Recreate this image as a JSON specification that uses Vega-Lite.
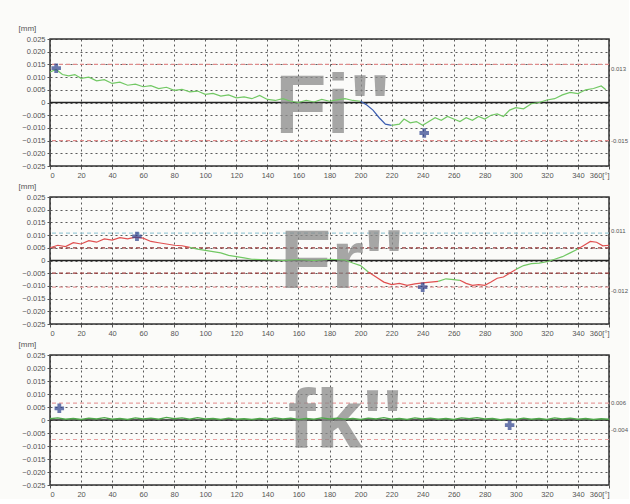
{
  "$schema": "https://vega.github.io/schema/vega-lite/v6.json",
  "padding": {"left": 17, "top": 23, "right": 0, "bottom": 0},
  "background": "#fbfbf9",
  "spacing": 1,
  "resolve": {"scale": {"color": "independent"}},
  "config": {
    "font": "Liberation Sans",
    "view": {"stroke": "#333333", "strokeWidth": 1.5},
    "axis": {"labelFontSize": 7.5, "labelColor": "#555555", "tickColor": "#555555", "domain": false, "grid": true, "gridColor": "#333333", "gridDash": [2, 3], "gridOpacity": 0.8, "tickSize": 3, "labelPadding": 2, "labelOverlap": false, "tickCount": 30},
    "axisY": {"titleAngle": 0, "titleX": -32, "titleY": -7, "titleAlign": "left", "titleBaseline": "bottom", "titleFontSize": 8, "titleFontWeight": "normal", "titleColor": "#555555"}
  },
  "datasets": {
    "p1": [
      {"deg": 0, "v": 0.012, "c": "g", "seg": 1}, {"deg": 4, "v": 0.013, "c": "g", "seg": 1}, {"deg": 8, "v": 0.011, "c": "g", "seg": 1}, {"deg": 12, "v": 0.0105, "c": "g", "seg": 1}, {"deg": 16, "v": 0.011, "c": "g", "seg": 1}, {"deg": 20, "v": 0.0095, "c": "g", "seg": 1}, {"deg": 25, "v": 0.01, "c": "g", "seg": 1}, {"deg": 30, "v": 0.0085, "c": "g", "seg": 1}, {"deg": 35, "v": 0.009, "c": "g", "seg": 1}, {"deg": 40, "v": 0.0075, "c": "g", "seg": 1}, {"deg": 45, "v": 0.008, "c": "g", "seg": 1}, {"deg": 50, "v": 0.0068, "c": "g", "seg": 1}, {"deg": 55, "v": 0.0072, "c": "g", "seg": 1}, {"deg": 60, "v": 0.0062, "c": "g", "seg": 1}, {"deg": 65, "v": 0.0066, "c": "g", "seg": 1}, {"deg": 70, "v": 0.0055, "c": "g", "seg": 1}, {"deg": 75, "v": 0.006, "c": "g", "seg": 1}, {"deg": 80, "v": 0.0048, "c": "g", "seg": 1}, {"deg": 85, "v": 0.0052, "c": "g", "seg": 1}, {"deg": 90, "v": 0.0042, "c": "g", "seg": 1}, {"deg": 95, "v": 0.0045, "c": "g", "seg": 1}, {"deg": 100, "v": 0.0032, "c": "g", "seg": 1}, {"deg": 105, "v": 0.0036, "c": "g", "seg": 1}, {"deg": 110, "v": 0.0025, "c": "g", "seg": 1}, {"deg": 115, "v": 0.003, "c": "g", "seg": 1}, {"deg": 120, "v": 0.0018, "c": "g", "seg": 1}, {"deg": 125, "v": 0.0022, "c": "g", "seg": 1}, {"deg": 130, "v": 0.0015, "c": "g", "seg": 1}, {"deg": 135, "v": 0.0028, "c": "g", "seg": 1}, {"deg": 140, "v": 0.0012, "c": "g", "seg": 1}, {"deg": 145, "v": 0.0008, "c": "g", "seg": 1}, {"deg": 150, "v": 0.0015, "c": "g", "seg": 1}, {"deg": 155, "v": 0.0005, "c": "g", "seg": 1}, {"deg": 160, "v": 0.0, "c": "g", "seg": 1}, {"deg": 165, "v": 0.0008, "c": "g", "seg": 1}, {"deg": 170, "v": 0.0002, "c": "g", "seg": 1}, {"deg": 175, "v": 0.0012, "c": "g", "seg": 1}, {"deg": 180, "v": 0.0005, "c": "g", "seg": 1}, {"deg": 185, "v": 0.001, "c": "g", "seg": 1}, {"deg": 190, "v": 0.0015, "c": "g", "seg": 1}, {"deg": 195, "v": 0.0008, "c": "g", "seg": 1}, {"deg": 200, "v": 0.0005, "c": "g", "seg": 1},
      {"deg": 200, "v": 0.0005, "c": "b", "seg": 2}, {"deg": 204, "v": -0.001, "c": "b", "seg": 2}, {"deg": 208, "v": -0.003, "c": "b", "seg": 2}, {"deg": 212, "v": -0.006, "c": "b", "seg": 2}, {"deg": 216, "v": -0.0085, "c": "b", "seg": 2}, {"deg": 220, "v": -0.009, "c": "b", "seg": 2},
      {"deg": 220, "v": -0.009, "c": "g", "seg": 3}, {"deg": 225, "v": -0.0085, "c": "g", "seg": 3}, {"deg": 228, "v": -0.0065, "c": "g", "seg": 3}, {"deg": 232, "v": -0.008, "c": "g", "seg": 3}, {"deg": 236, "v": -0.0075, "c": "g", "seg": 3}, {"deg": 240, "v": -0.009, "c": "g", "seg": 3}, {"deg": 244, "v": -0.0075, "c": "g", "seg": 3}, {"deg": 248, "v": -0.006, "c": "g", "seg": 3}, {"deg": 252, "v": -0.007, "c": "g", "seg": 3}, {"deg": 256, "v": -0.0055, "c": "g", "seg": 3}, {"deg": 260, "v": -0.0065, "c": "g", "seg": 3}, {"deg": 264, "v": -0.0075, "c": "g", "seg": 3}, {"deg": 268, "v": -0.006, "c": "g", "seg": 3}, {"deg": 272, "v": -0.007, "c": "g", "seg": 3}, {"deg": 276, "v": -0.0055, "c": "g", "seg": 3}, {"deg": 280, "v": -0.0065, "c": "g", "seg": 3}, {"deg": 284, "v": -0.005, "c": "g", "seg": 3}, {"deg": 288, "v": -0.0045, "c": "g", "seg": 3}, {"deg": 292, "v": -0.0055, "c": "g", "seg": 3}, {"deg": 296, "v": -0.003, "c": "g", "seg": 3}, {"deg": 300, "v": -0.002, "c": "g", "seg": 3}, {"deg": 305, "v": -0.0025, "c": "g", "seg": 3}, {"deg": 310, "v": -0.0005, "c": "g", "seg": 3}, {"deg": 315, "v": 0.0, "c": "g", "seg": 3}, {"deg": 320, "v": 0.001, "c": "g", "seg": 3}, {"deg": 325, "v": 0.0015, "c": "g", "seg": 3}, {"deg": 330, "v": 0.003, "c": "g", "seg": 3}, {"deg": 335, "v": 0.004, "c": "g", "seg": 3}, {"deg": 340, "v": 0.0035, "c": "g", "seg": 3}, {"deg": 345, "v": 0.005, "c": "g", "seg": 3}, {"deg": 350, "v": 0.0055, "c": "g", "seg": 3}, {"deg": 355, "v": 0.0065, "c": "g", "seg": 3}, {"deg": 358, "v": 0.005, "c": "g", "seg": 3}
    ],
    "p2": [
      {"deg": 0, "v": 0.005, "c": "r", "seg": 1}, {"deg": 5, "v": 0.006, "c": "r", "seg": 1}, {"deg": 10, "v": 0.0055, "c": "r", "seg": 1}, {"deg": 15, "v": 0.007, "c": "r", "seg": 1}, {"deg": 20, "v": 0.0065, "c": "r", "seg": 1}, {"deg": 25, "v": 0.0078, "c": "r", "seg": 1}, {"deg": 30, "v": 0.0072, "c": "r", "seg": 1}, {"deg": 35, "v": 0.0085, "c": "r", "seg": 1}, {"deg": 40, "v": 0.008, "c": "r", "seg": 1}, {"deg": 45, "v": 0.009, "c": "r", "seg": 1}, {"deg": 50, "v": 0.0085, "c": "r", "seg": 1}, {"deg": 55, "v": 0.0092, "c": "r", "seg": 1}, {"deg": 60, "v": 0.0088, "c": "r", "seg": 1}, {"deg": 65, "v": 0.0075, "c": "r", "seg": 1}, {"deg": 70, "v": 0.007, "c": "r", "seg": 1}, {"deg": 75, "v": 0.0065, "c": "r", "seg": 1}, {"deg": 80, "v": 0.006, "c": "r", "seg": 1}, {"deg": 85, "v": 0.0058, "c": "r", "seg": 1}, {"deg": 90, "v": 0.0052, "c": "r", "seg": 1},
      {"deg": 90, "v": 0.0052, "c": "g", "seg": 2}, {"deg": 95, "v": 0.0045, "c": "g", "seg": 2}, {"deg": 100, "v": 0.004, "c": "g", "seg": 2}, {"deg": 105, "v": 0.0035, "c": "g", "seg": 2}, {"deg": 110, "v": 0.003, "c": "g", "seg": 2}, {"deg": 115, "v": 0.002, "c": "g", "seg": 2}, {"deg": 120, "v": 0.0015, "c": "g", "seg": 2}, {"deg": 125, "v": 0.001, "c": "g", "seg": 2}, {"deg": 130, "v": 0.0005, "c": "g", "seg": 2}, {"deg": 140, "v": 0.0003, "c": "g", "seg": 2}, {"deg": 150, "v": 0.0, "c": "g", "seg": 2}, {"deg": 160, "v": 0.0004, "c": "g", "seg": 2}, {"deg": 170, "v": 0.0, "c": "g", "seg": 2}, {"deg": 180, "v": 0.0005, "c": "g", "seg": 2}, {"deg": 190, "v": 0.0002, "c": "g", "seg": 2}, {"deg": 195, "v": -0.001, "c": "g", "seg": 2}, {"deg": 200, "v": -0.002, "c": "g", "seg": 2}, {"deg": 205, "v": -0.0045, "c": "g", "seg": 2},
      {"deg": 205, "v": -0.0045, "c": "r", "seg": 3}, {"deg": 210, "v": -0.0065, "c": "r", "seg": 3}, {"deg": 215, "v": -0.0085, "c": "r", "seg": 3}, {"deg": 220, "v": -0.0095, "c": "r", "seg": 3}, {"deg": 225, "v": -0.009, "c": "r", "seg": 3}, {"deg": 230, "v": -0.0098, "c": "r", "seg": 3}, {"deg": 235, "v": -0.0092, "c": "r", "seg": 3}, {"deg": 240, "v": -0.0088, "c": "r", "seg": 3}, {"deg": 245, "v": -0.0085, "c": "r", "seg": 3}, {"deg": 250, "v": -0.0082, "c": "r", "seg": 3},
      {"deg": 250, "v": -0.0082, "c": "g", "seg": 4}, {"deg": 255, "v": -0.0072, "c": "g", "seg": 4}, {"deg": 260, "v": -0.0075, "c": "g", "seg": 4}, {"deg": 264, "v": -0.0078, "c": "g", "seg": 4},
      {"deg": 264, "v": -0.0078, "c": "r", "seg": 5}, {"deg": 268, "v": -0.009, "c": "r", "seg": 5}, {"deg": 272, "v": -0.0098, "c": "r", "seg": 5}, {"deg": 276, "v": -0.0095, "c": "r", "seg": 5}, {"deg": 280, "v": -0.0098, "c": "r", "seg": 5}, {"deg": 284, "v": -0.0085, "c": "r", "seg": 5}, {"deg": 288, "v": -0.007, "c": "r", "seg": 5}, {"deg": 292, "v": -0.0065, "c": "r", "seg": 5}, {"deg": 296, "v": -0.005, "c": "r", "seg": 5}, {"deg": 300, "v": -0.0035, "c": "r", "seg": 5},
      {"deg": 300, "v": -0.0035, "c": "g", "seg": 6}, {"deg": 305, "v": -0.002, "c": "g", "seg": 6}, {"deg": 310, "v": -0.0012, "c": "g", "seg": 6}, {"deg": 315, "v": -0.001, "c": "g", "seg": 6}, {"deg": 320, "v": -0.0005, "c": "g", "seg": 6}, {"deg": 325, "v": 0.0005, "c": "g", "seg": 6}, {"deg": 330, "v": 0.0015, "c": "g", "seg": 6}, {"deg": 335, "v": 0.003, "c": "g", "seg": 6}, {"deg": 340, "v": 0.0045, "c": "g", "seg": 6},
      {"deg": 340, "v": 0.0045, "c": "r", "seg": 7}, {"deg": 344, "v": 0.006, "c": "r", "seg": 7}, {"deg": 348, "v": 0.0075, "c": "r", "seg": 7}, {"deg": 352, "v": 0.0072, "c": "r", "seg": 7}, {"deg": 356, "v": 0.0058, "c": "r", "seg": 7}, {"deg": 360, "v": 0.006, "c": "r", "seg": 7}
    ],
    "p3": [
      {"deg": 0, "v": 0.0005, "c": "g", "seg": 1}, {"deg": 5, "v": 0.0008, "c": "g", "seg": 1}, {"deg": 10, "v": 0.0003, "c": "g", "seg": 1}, {"deg": 15, "v": 0.0006, "c": "g", "seg": 1}, {"deg": 20, "v": 0.0002, "c": "g", "seg": 1}, {"deg": 25, "v": 0.0007, "c": "g", "seg": 1}, {"deg": 30, "v": 0.0004, "c": "g", "seg": 1}, {"deg": 35, "v": 0.0009, "c": "g", "seg": 1}, {"deg": 40, "v": 0.0003, "c": "g", "seg": 1}, {"deg": 45, "v": 0.0006, "c": "g", "seg": 1}, {"deg": 50, "v": 0.0002, "c": "g", "seg": 1}, {"deg": 55, "v": 0.0008, "c": "g", "seg": 1}, {"deg": 60, "v": 0.0004, "c": "g", "seg": 1}, {"deg": 65, "v": 0.0007, "c": "g", "seg": 1}, {"deg": 70, "v": 0.0003, "c": "g", "seg": 1}, {"deg": 75, "v": 0.001, "c": "g", "seg": 1}, {"deg": 80, "v": 0.0005, "c": "g", "seg": 1}, {"deg": 85, "v": 0.0008, "c": "g", "seg": 1}, {"deg": 90, "v": 0.0003, "c": "g", "seg": 1}, {"deg": 95, "v": 0.0009, "c": "g", "seg": 1}, {"deg": 100, "v": 0.0004, "c": "g", "seg": 1}, {"deg": 105, "v": 0.0006, "c": "g", "seg": 1}, {"deg": 110, "v": 0.0002, "c": "g", "seg": 1}, {"deg": 115, "v": 0.0007, "c": "g", "seg": 1}, {"deg": 120, "v": 0.0003, "c": "g", "seg": 1}, {"deg": 125, "v": 0.0005, "c": "g", "seg": 1}, {"deg": 130, "v": 0.0002, "c": "g", "seg": 1}, {"deg": 135, "v": 0.0006, "c": "g", "seg": 1}, {"deg": 140, "v": 0.0003, "c": "g", "seg": 1}, {"deg": 145, "v": 0.0008, "c": "g", "seg": 1}, {"deg": 150, "v": 0.0004, "c": "g", "seg": 1}, {"deg": 155, "v": 0.0007, "c": "g", "seg": 1}, {"deg": 160, "v": 0.0002, "c": "g", "seg": 1}, {"deg": 165, "v": 0.0006, "c": "g", "seg": 1}, {"deg": 170, "v": 0.0003, "c": "g", "seg": 1}, {"deg": 175, "v": 0.0008, "c": "g", "seg": 1}, {"deg": 180, "v": 0.0004, "c": "g", "seg": 1}, {"deg": 185, "v": 0.0007, "c": "g", "seg": 1}, {"deg": 190, "v": 0.0003, "c": "g", "seg": 1}, {"deg": 195, "v": 0.0006, "c": "g", "seg": 1}, {"deg": 200, "v": 0.0002, "c": "g", "seg": 1}, {"deg": 205, "v": 0.0007, "c": "g", "seg": 1}, {"deg": 210, "v": 0.0004, "c": "g", "seg": 1}, {"deg": 215, "v": 0.0009, "c": "g", "seg": 1}, {"deg": 220, "v": 0.0003, "c": "g", "seg": 1}, {"deg": 225, "v": 0.0006, "c": "g", "seg": 1}, {"deg": 230, "v": 0.0002, "c": "g", "seg": 1}, {"deg": 235, "v": 0.0008, "c": "g", "seg": 1}, {"deg": 240, "v": 0.0004, "c": "g", "seg": 1}, {"deg": 245, "v": 0.0007, "c": "g", "seg": 1}, {"deg": 250, "v": 0.0003, "c": "g", "seg": 1}, {"deg": 255, "v": 0.0006, "c": "g", "seg": 1}, {"deg": 260, "v": 0.0002, "c": "g", "seg": 1}, {"deg": 265, "v": 0.0008, "c": "g", "seg": 1}, {"deg": 270, "v": 0.0005, "c": "g", "seg": 1}, {"deg": 275, "v": 0.0009, "c": "g", "seg": 1}, {"deg": 280, "v": 0.0004, "c": "g", "seg": 1}, {"deg": 285, "v": 0.0006, "c": "g", "seg": 1}, {"deg": 290, "v": 0.0001, "c": "g", "seg": 1}, {"deg": 295, "v": 0.0004, "c": "g", "seg": 1}, {"deg": 300, "v": 0.0002, "c": "g", "seg": 1}, {"deg": 305, "v": 0.0007, "c": "g", "seg": 1}, {"deg": 310, "v": 0.0003, "c": "g", "seg": 1}, {"deg": 315, "v": 0.0006, "c": "g", "seg": 1}, {"deg": 320, "v": 0.0002, "c": "g", "seg": 1}, {"deg": 325, "v": 0.0008, "c": "g", "seg": 1}, {"deg": 330, "v": 0.0004, "c": "g", "seg": 1}, {"deg": 335, "v": 0.0007, "c": "g", "seg": 1}, {"deg": 340, "v": 0.0003, "c": "g", "seg": 1}, {"deg": 345, "v": 0.0006, "c": "g", "seg": 1}, {"deg": 350, "v": 0.0002, "c": "g", "seg": 1}, {"deg": 355, "v": 0.0005, "c": "g", "seg": 1}, {"deg": 360, "v": 0.0003, "c": "g", "seg": 1}
    ]
  },
  "vconcat": [
    {
      "width": 559, "height": 127,
      "layer": [
        {"data": {"values": [{"v": 0.015}, {"v": -0.015}]}, "mark": {"type": "rule", "color": "#e08a8a", "strokeDash": [4, 3], "strokeWidth": 1.2}, "encoding": {"y": {"field": "v", "type": "quantitative", "scale": {"domain": [-0.025, 0.025]}, "axis": {"title": "[mm]", "tickCount": 30, "values": [-0.025, -0.02, -0.015, -0.01, -0.005, 0, 0.005, 0.01, 0.015, 0.02, 0.025], "labelExpr": "datum.value == 0 ? '0' : format(datum.value, '.3f')"}}}},
        {"data": {"values": [{"v": 0}]}, "mark": {"type": "rule", "color": "#222222", "strokeWidth": 1.5}, "encoding": {"y": {"field": "v", "type": "quantitative"}}},
        {"data": {"values": [{"t": "Fi''"}]}, "mark": {"type": "text", "fontSize": 84, "fontWeight": "bold", "color": "#8a8a8a", "opacity": 0.75, "font": "Liberation Sans"}, "encoding": {"x": {"datum": 182}, "y": {"datum": -0.002}, "text": {"field": "t"}}},
        {"data": {"name": "p1"}, "mark": {"type": "line", "strokeWidth": 1.2}, "encoding": {"x": {"field": "deg", "type": "quantitative", "scale": {"domain": [0, 360], "nice": false}, "axis": {"title": null, "tickCount": 30, "values": [0, 20, 40, 60, 80, 100, 120, 140, 160, 180, 200, 220, 240, 260, 280, 300, 320, 340, 360], "labelExpr": "datum.value == 360 ? '360[°]' : datum.label"}}, "y": {"field": "v", "type": "quantitative"}, "detail": {"field": "seg"}, "color": {"field": "c", "type": "nominal", "scale": {"domain": ["g", "r", "b"], "range": ["#72c864", "#e05050", "#3a5cb0"]}, "legend": null}, "order": {"field": "deg"}}},
        {"data": {"values": [{"deg": 4, "v": 0.0135}, {"deg": 241, "v": -0.012}]}, "mark": {"type": "point", "shape": "cross", "filled": true, "color": "#2b3f8c", "size": 90}, "encoding": {"x": {"field": "deg", "type": "quantitative"}, "y": {"field": "v", "type": "quantitative"}}},
        {"data": {"values": [{"t": "0.013", "v": 0.0132}, {"t": "-0.015", "v": -0.015}]}, "mark": {"type": "text", "align": "left", "dx": 2, "fontSize": 6, "color": "#555555", "clip": false}, "encoding": {"x": {"datum": 360}, "y": {"field": "v", "type": "quantitative"}, "text": {"field": "t"}}}
      ]
    },
    {
      "width": 559, "height": 127,
      "layer": [
        {"data": {"values": [{"v": 0.005}, {"v": -0.005}]}, "mark": {"type": "rule", "color": "#9a3a3a", "strokeDash": [4, 3], "strokeWidth": 1.2}, "encoding": {"y": {"field": "v", "type": "quantitative", "scale": {"domain": [-0.025, 0.025]}, "axis": {"title": "[mm]", "tickCount": 30, "values": [-0.025, -0.02, -0.015, -0.01, -0.005, 0, 0.005, 0.01, 0.015, 0.02, 0.025], "labelExpr": "datum.value == 0 ? '0' : format(datum.value, '.3f')"}}}},
        {"data": {"values": [{"v": 0.0108}]}, "mark": {"type": "rule", "color": "#9ccbd8", "strokeDash": [4, 3], "strokeWidth": 1.2}, "encoding": {"y": {"field": "v", "type": "quantitative"}}},
        {"data": {"values": [{"v": -0.0105}]}, "mark": {"type": "rule", "color": "#eaa0a0", "strokeDash": [4, 3], "strokeWidth": 1.2}, "encoding": {"y": {"field": "v", "type": "quantitative"}}},
        {"data": {"values": [{"v": 0}]}, "mark": {"type": "rule", "color": "#222222", "strokeWidth": 1.5}, "encoding": {"y": {"field": "v", "type": "quantitative"}}},
        {"data": {"values": [{"t": "Fr''"}]}, "mark": {"type": "text", "fontSize": 84, "fontWeight": "bold", "color": "#8a8a8a", "opacity": 0.75, "font": "Liberation Sans"}, "encoding": {"x": {"datum": 188}, "y": {"datum": -0.001}, "text": {"field": "t"}}},
        {"data": {"name": "p2"}, "mark": {"type": "line", "strokeWidth": 1.2}, "encoding": {"x": {"field": "deg", "type": "quantitative", "scale": {"domain": [0, 360], "nice": false}, "axis": {"title": null, "tickCount": 30, "values": [0, 20, 40, 60, 80, 100, 120, 140, 160, 180, 200, 220, 240, 260, 280, 300, 320, 340, 360], "labelExpr": "datum.value == 360 ? '360[°]' : datum.label"}}, "y": {"field": "v", "type": "quantitative"}, "detail": {"field": "seg"}, "color": {"field": "c", "type": "nominal", "scale": {"domain": ["g", "r", "b"], "range": ["#72c864", "#e05050", "#3a5cb0"]}, "legend": null}, "order": {"field": "deg"}}},
        {"data": {"values": [{"deg": 56, "v": 0.0095}, {"deg": 240, "v": -0.0105}]}, "mark": {"type": "point", "shape": "cross", "filled": true, "color": "#2b3f8c", "size": 90}, "encoding": {"x": {"field": "deg", "type": "quantitative"}, "y": {"field": "v", "type": "quantitative"}}},
        {"data": {"values": [{"t": "0.011", "v": 0.0115}, {"t": "-0.012", "v": -0.012}]}, "mark": {"type": "text", "align": "left", "dx": 2, "fontSize": 6, "color": "#555555", "clip": false}, "encoding": {"x": {"datum": 360}, "y": {"field": "v", "type": "quantitative"}, "text": {"field": "t"}}}
      ]
    },
    {
      "width": 559, "height": 130,
      "layer": [
        {"data": {"values": [{"v": 0.0065}, {"v": -0.0075}]}, "mark": {"type": "rule", "color": "#e8a0a0", "strokeDash": [4, 3], "strokeWidth": 1.2}, "encoding": {"y": {"field": "v", "type": "quantitative", "scale": {"domain": [-0.025, 0.025]}, "axis": {"title": "[mm]", "tickCount": 30, "values": [-0.025, -0.02, -0.015, -0.01, -0.005, 0, 0.005, 0.01, 0.015, 0.02, 0.025], "labelExpr": "datum.value == 0 ? '0' : format(datum.value, '.3f')"}}}},
        {"data": {"values": [{"v": 0}]}, "mark": {"type": "rule", "color": "#222222", "strokeWidth": 1.5}, "encoding": {"y": {"field": "v", "type": "quantitative"}}},
        {"data": {"values": [{"t": "fk''"}]}, "mark": {"type": "text", "fontSize": 84, "fontWeight": "bold", "color": "#8a8a8a", "opacity": 0.75, "font": "Liberation Sans"}, "encoding": {"x": {"datum": 190}, "y": {"datum": -0.001}, "text": {"field": "t"}}},
        {"data": {"name": "p3"}, "mark": {"type": "line", "strokeWidth": 1.4}, "encoding": {"x": {"field": "deg", "type": "quantitative", "scale": {"domain": [0, 360], "nice": false}, "axis": {"title": null, "tickCount": 30, "values": [0, 20, 40, 60, 80, 100, 120, 140, 160, 180, 200, 220, 240, 260, 280, 300, 320, 340, 360], "labelExpr": "datum.value == 360 ? '360[°]' : datum.label"}}, "y": {"field": "v", "type": "quantitative"}, "detail": {"field": "seg"}, "color": {"field": "c", "type": "nominal", "scale": {"domain": ["g", "r", "b"], "range": ["#4fa84a", "#e05050", "#3a5cb0"]}, "legend": null}, "order": {"field": "deg"}}},
        {"data": {"values": [{"deg": 6, "v": 0.0045}, {"deg": 296, "v": -0.002}]}, "mark": {"type": "point", "shape": "cross", "filled": true, "color": "#2b3f8c", "size": 90}, "encoding": {"x": {"field": "deg", "type": "quantitative"}, "y": {"field": "v", "type": "quantitative"}}},
        {"data": {"values": [{"t": "0.006", "v": 0.0065}, {"t": "-0.004", "v": -0.004}]}, "mark": {"type": "text", "align": "left", "dx": 2, "fontSize": 6, "color": "#555555", "clip": false}, "encoding": {"x": {"datum": 360}, "y": {"field": "v", "type": "quantitative"}, "text": {"field": "t"}}}
      ]
    }
  ]
}
